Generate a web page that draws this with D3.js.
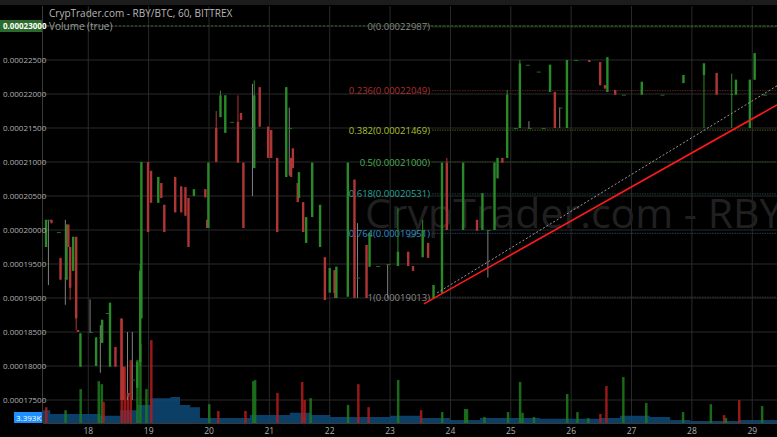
<!DOCTYPE html>
<html><head><meta charset="utf-8">
<script src="https://cdn.jsdelivr.net/npm/d3@7"></script>
<style>body{margin:0;background:#000}svg{display:block}</style></head>
<body><svg id="c" width="777" height="437"></svg>
<script>
// prices in units of 1e-8 BTC
const yTicks = [17500,18000,18500,19000,19500,20000,20500,21000,21500,22000,22500,23000];
const xTicks = [18,19,20,21,22,23,24,25,26,27,28,29];
// candles: [day, open, high, low, close]
const candles = [
[17.30,19750,20150,19750,20150],[17.34,20150,20150,19190,20150],[17.39,20150,20150,20100,20100],
[17.50,19970,19970,19970,19970],[17.54,19590,19590,19270,19270],[17.62,19300,20150,18900,19300],
[17.64,19270,20080,19270,20080],[17.67,20080,20080,19750,19750],[17.70,19750,19750,18970,19150],
[17.75,19400,19900,19400,19900],[17.80,19900,19900,18530,18700],[17.83,18530,18530,18500,18500],
[17.87,17990,18480,17990,18480],[18.03,18500,18980,18500,18500],[18.13,18000,18420,18000,18420],
[18.20,18420,18600,17900,18420],[18.23,18340,18680,18340,18680],[18.31,18780,18780,18780,18780],
[18.36,17990,18930,17990,18930],[18.45,18280,18280,17990,17990],[18.55,18700,18700,17500,17500],
[18.58,17990,17990,17500,17500],[18.65,17600,18500,17500,17600],[18.66,17600,17600,17550,17550],
[18.73,17800,18500,17500,17800],[18.81,17680,18060,17680,18060],[18.86,18060,19500,18000,19400],
[18.88,18700,21000,18700,21000],[18.99,21000,21000,19970,19970],[19.04,20870,20870,20400,20400],
[19.16,20400,20780,20400,20780],[19.21,20690,20690,20470,20470],[19.26,20370,20370,19970,19970],
[19.44,20780,20780,20260,20260],[19.54,20640,20640,20260,20260],[19.61,20630,20630,20210,20210],
[19.66,20470,20470,19750,19750],[19.75,20500,20600,20500,20600],[19.94,20600,20600,20480,20480],
[19.97,20150,20150,20030,20030],[19.99,20030,20990,20030,20990],[20.12,21500,21750,21000,21000],
[20.19,21660,22050,21660,21980],[20.27,21430,21980,21430,21980],[20.37,21590,21590,21590,21590],
[20.48,21590,21980,20990,20990],[20.53,21720,21720,21620,21620],[20.57,20990,20990,20030,20030],
[20.72,21500,22150,20500,21500],[20.75,20910,22200,20910,21980],[20.84,22100,22100,21520,21520],
[20.98,21520,21520,21060,21060],[21.03,21470,21470,21060,21060],[21.13,21060,21060,19970,19970],
[21.28,20780,22100,20780,22100],[21.33,21500,21800,20800,21500],[21.36,21060,21060,20780,20780],
[21.39,21200,21200,20910,20910],[21.47,20690,20690,20410,20410],[21.49,20470,20850,20470,20850],
[21.56,20410,20410,19970,19970],[21.61,19810,20190,19810,20190],[21.71,20190,20990,20190,20990],
[21.84,19750,20370,19750,20370],[21.92,19600,19600,18970,18970],[22.00,19080,19440,19080,19440],
[22.08,19410,19410,19000,19070],[22.11,19000,19460,19000,19460],[22.30,19020,20990,19020,20990],
[22.41,20740,20740,19000,19000],[22.46,19300,20100,19000,19300],[22.61,19780,19780,19000,19000],
[22.66,19460,19960,19460,19960],[22.79,19470,19470,19470,19470],[22.96,19500,19500,19000,19500],
[23.13,19470,20330,19470,19680],[23.30,19680,19680,19470,19470],[23.38,19470,19470,19400,19400],
[23.54,19600,20150,19600,20000],[23.63,19810,19810,19590,19590],[23.72,19000,19190,19000,19190],
[23.86,19070,20990,19070,20990],[23.94,20990,21060,20000,20000],[24.21,20000,20990,20000,20990],
[24.44,20150,20150,19990,19990],[24.53,20000,20540,20000,20540],[24.62,20000,20000,19300,20000],
[24.73,20000,20990,20000,20990],[24.78,20760,21060,20760,21060],[24.86,21060,21060,20990,20990],
[24.94,21060,22060,21060,21990],[25.07,21500,21500,21500,21500],[25.15,21500,22500,21500,22450],
[25.27,22430,22430,22430,22430],[25.30,21500,21600,21500,21500],[25.45,22330,22330,22330,22330],
[25.53,21500,21500,21500,21500],[25.65,22030,22430,22030,22430],[25.73,22030,22030,21500,21500],
[25.81,21800,21800,21500,21800],[25.93,21500,22500,21500,22500],[26.07,22500,22500,22500,22500],
[26.30,22500,22500,22470,22470],[26.48,22470,22470,22130,22130],[26.56,22130,22130,22080,22080],
[26.60,22030,22540,22030,22540],[26.73,22060,22060,21990,21990],[26.86,21990,21990,21990,21990],
[27.17,21990,22180,21990,22180],[27.50,21990,21990,21990,21990],[27.86,22160,22280,22160,22280],
[28.20,22280,22450,21500,22450],[28.41,22310,22310,21990,21990],[28.66,21990,22300,21500,22000],
[28.73,21990,22210,21990,22210],[28.96,21500,22210,21500,22210],[29.04,22210,22600,22210,22600],
[29.20,21990,22000,21990,21990]];
// volume bars: [day, volume (K), up=1/down=0]
const volumes = [
[17.30,4.2,0],[17.62,3.4,1],[17.87,9.0,1],[18.17,11.1,1],[18.22,10.3,1],[18.25,5.6,0],
[18.55,27.6,0],[18.60,14.9,0],[18.65,7.4,0],[18.70,16.7,0],[18.81,16.7,1],[18.86,20.9,1],
[18.96,9.0,1],[19.04,22.0,0],[20.00,5.0,1],[20.15,3.2,0],[20.60,3.2,0],[20.73,11.1,1],
[20.76,11.4,1],[21.13,8.0,0],[21.54,10.9,0],[21.58,6.1,0],[21.68,6.6,1],[22.30,4.8,1],
[22.47,10.3,0],[22.64,4.2,0],[23.13,11.4,1],[23.51,3.4,0],[23.86,2.9,1],[24.24,3.7,1],
[24.27,3.7,1],[24.56,1.6,1],[24.95,2.9,1],[25.15,10.9,1],[25.19,2.7,1],[25.38,1.6,1],
[25.93,7.7,1],[26.10,2.9,1],[26.28,1.3,1],[26.48,2.4,0],[26.58,9.8,0],[26.86,12.2,1],
[27.24,5.3,1],[27.85,2.9,1],[28.31,5.0,1],[28.53,2.1,0],[28.56,1.3,1],[28.78,6.1,0],[29.16,4.5,1]];
const maDays = [17.25,17.37,18.20,18.53,18.81,19.03,19.36,19.52,19.69,19.85,20.52,20.68,21.01,21.34,21.68,22.01,23.00,23.50,23.99,24.49,25.15,25.48,26.48,26.81,27.30,27.64,27.97,28.79,29.41];
const maVals = [3.4,2.4,1.9,3.4,4.8,6.6,6.9,4.8,4.2,1.3,1.3,2.1,2.1,2.7,2.1,1.6,1.9,1.3,0.8,1.3,1.3,1.1,1.3,1.9,1.6,0.8,0.5,0.8,0.8];
const fibRatios = ["0","0.236","0.382","0.5","0.618","0.764","1"];
const fibPrices = [22987,22049,21469,21000,20531,19951,19013];
const fibColors = ["#8a8a8a","#b03030","#a8c030","#4caf50","#26a69a","#2f8fd0","#8a8a8a"];
const fibLineColors = ["#2f4a1f","#5a2020","#4a5a18","#2a4a1a","#1f4040","#1f3f5a","#333333"];
const trendRed = [[23.56,18913],[29.41,21840]];
const trendGray = [[23.78,19075],[29.41,22120]];

const svg = d3.select("#c");
const W=777,H=437,L=43,T=6,B=423;
const x = d3.scaleLinear().domain([17.25,29.41]).range([L,W]);
const y = d3.scaleLinear().domain([23000,17500]).range([26,400]);
const v = d3.scaleLinear().domain([0,30]).range([B,310]);

svg.append("rect").attr("width",W).attr("height",H).attr("fill","#000");
// grid
svg.append("g").selectAll("line").data(xTicks).join("line")
  .attr("x1",d=>x(d)).attr("x2",d=>x(d)).attr("y1",T).attr("y2",B).attr("stroke","#2a2a2a");
svg.append("g").selectAll("line").data(yTicks).join("line")
  .attr("x1",L).attr("x2",W).attr("y1",d=>y(d)).attr("y2",d=>y(d)).attr("stroke","#2a2a2a");
// watermark
svg.append("text").attr("x",365).attr("y",228).attr("fill","#202020")
  .attr("font-family","Open Sans, sans-serif").attr("font-size",41).text("CrypTrader.com - RBY/BTC");
// volume MA area
const area = d3.area().x((d,i)=>x(maDays[i])).y0(B).y1(d=>v(d)).curve(d3.curveStepAfter);
svg.append("path").datum(maVals).attr("d",area).attr("fill","#0e4a78").attr("fill-opacity",0.85);
// volume bars
svg.append("g").selectAll("rect").data(volumes).join("rect")
  .attr("x",d=>x(d[0])-1).attr("width",2.5).attr("y",d=>v(d[1])).attr("height",d=>B-v(d[1]))
  .attr("fill",d=>d[2]?"#1f7a1f":"#b01c1c").attr("fill-opacity",0.85);
// fib lines
const fg = svg.append("g");
fibPrices.forEach((p,i)=>{
  fg.append("line").attr("x1",432).attr("x2",W).attr("y1",y(p)).attr("y2",y(p))
    .attr("stroke",fibLineColors[i]).attr("stroke-dasharray","1.5,1");
  fg.append("text").attr("x",430).attr("y",y(p)+3.5).attr("text-anchor","end")
    .attr("fill",fibColors[i]).attr("font-family","Open Sans, sans-serif").attr("font-size",9.5)
    .text(fibRatios[i]+"("+(p/1e8).toFixed(8)+")");
});
// current price line
svg.append("line").attr("x1",L).attr("x2",W).attr("y1",y(23000)).attr("y2",y(23000))
  .attr("stroke","#2e6b2e").attr("stroke-dasharray","2,2");
// candles
const cg = svg.append("g");
candles.forEach(c=>{
  const [d,o,h,l,cl]=c;
  const col = cl>o?"#2a8a2a":(cl<o?"#b03535":"#808080");
  cg.append("line").attr("x1",x(d)).attr("x2",x(d)).attr("y1",y(h)).attr("y2",y(l))
    .attr("stroke",cl===o?"#808080":col).attr("stroke-width",1);
  const top=Math.min(y(o),y(cl)), hh=Math.max(1,Math.abs(y(o)-y(cl)));
  cg.append("rect").attr("x",x(d)-1.2).attr("width",cl===o?4:2.4).attr("y",top).attr("height",hh)
    .attr("fill",cl===o?"#1f6a1f":col);
});
// trend lines
svg.append("line").attr("x1",x(trendGray[0][0])).attr("y1",y(trendGray[0][1]))
  .attr("x2",x(trendGray[1][0])).attr("y2",y(trendGray[1][1])).attr("stroke","#9a9a9a").attr("stroke-dasharray","2,2");
svg.append("line").attr("x1",x(trendRed[0][0])).attr("y1",y(trendRed[0][1]))
  .attr("x2",x(trendRed[1][0])).attr("y2",y(trendRed[1][1])).attr("stroke","#ff1a1a").attr("stroke-width",1.6);
// axes background
svg.append("rect").attr("x",0).attr("y",0).attr("width",L-1).attr("height",H).attr("fill","#000");
svg.append("rect").attr("x",0).attr("y",B+1).attr("width",W).attr("height",H-B).attr("fill","#000");
svg.append("line").attr("x1",L-0.5).attr("x2",L-0.5).attr("y1",T).attr("y2",B).attr("stroke","#3a3a3a");
svg.append("line").attr("x1",L).attr("x2",W).attr("y1",B+0.5).attr("y2",B+0.5).attr("stroke","#3a3a3a");
svg.append("rect").attr("x",0).attr("y",0).attr("width",W).attr("height",5).attr("fill","#1c1c1c");
// y axis labels
svg.append("g").selectAll("text").data(yTicks.filter(t=>t<23000)).join("text")
  .attr("x",3).attr("y",d=>y(d)+3).attr("fill","#b0b0b0").attr("font-family","Open Sans, sans-serif")
  .attr("font-size",8).text(d=>(d/1e8).toFixed(8));
svg.append("rect").attr("x",0).attr("y",y(23000)-6).attr("width",42).attr("height",12).attr("fill","#2a6a2a");
svg.append("text").attr("x",3).attr("y",y(23000)+3).attr("fill","#fff").attr("font-weight","bold")
  .attr("font-family","Open Sans, sans-serif").attr("font-size",8).text((23000/1e8).toFixed(8));
// volume label
svg.append("rect").attr("x",14).attr("y",412).attr("width",28).attr("height",11).attr("fill","#1e8fff");
svg.append("text").attr("x",16).attr("y",420.5).attr("fill","#fff")
  .attr("font-family","Open Sans, sans-serif").attr("font-size",8).text("3.393K");
// x labels
svg.append("g").selectAll("text").data(xTicks).join("text")
  .attr("x",d=>x(d)).attr("y",434).attr("text-anchor","middle").attr("fill","#b0b0b0")
  .attr("font-family","Open Sans, sans-serif").attr("font-size",8.5).text(d=>d);
// titles
svg.append("text").attr("x",49).attr("y",17).attr("fill","#b8b8b8").attr("font-family","Open Sans, sans-serif")
  .attr("font-size",10).text("CrypTrader.com - RBY/BTC, 60, BITTREX");
svg.append("text").attr("x",49).attr("y",30).attr("fill","#9a9a9a").attr("font-family","Open Sans, sans-serif")
  .attr("font-size",10).text("Volume (true)");
</script></body></html>
